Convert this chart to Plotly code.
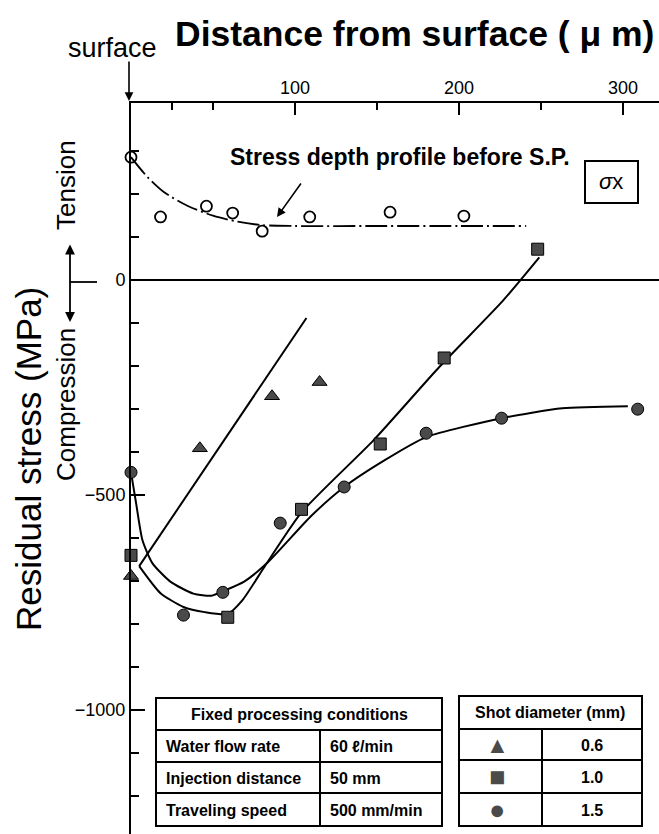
import plotly.graph_objects as go

# ---------------- data ----------------
# open circles: stress depth profile before shot peening
before_x = [0, 18, 46, 62, 80, 109, 158, 203]
before_y = [286, 147, 172, 156, 114, 147, 158, 149]
before_curve_x = [0, 10, 20, 35, 50, 65, 80, 100, 150, 200, 241]
before_curve_y = [286, 240, 205, 172, 150, 136, 128, 126, 126, 126, 126]

# shot diameter 0.6 mm (triangles)
tri_x = [0, 42, 86, 115]
tri_y = [-688, -391, -270, -237]
tri_curve_x = [5, 107]
tri_curve_y = [-665, -88]

# shot diameter 1.0 mm (squares)
sq_x = [0, 59, 104, 152, 191, 248]
sq_y = [-640, -784, -533, -381, -181, 72]
sq_curve_x = [5, 18, 32, 45, 59, 68, 82, 104, 148, 188, 227, 249]
sq_curve_y = [-665, -728, -760, -772, -776, -744, -663, -540, -372, -202, -47, 53]

# shot diameter 1.5 mm (circles)
ci_x = [0, 32, 56, 91, 130, 180, 226, 309]
ci_y = [-447, -779, -726, -565, -481, -356, -321, -300]
ci_curve_x = [0, 3, 7, 13, 24, 38, 49, 57, 69, 83, 110, 130, 155, 180, 226, 263, 303]
ci_curve_y = [-447, -516, -605, -658, -701, -729, -734, -722, -701, -658, -548, -481, -418, -365, -321, -298, -293]

x_ticks = [100, 200, 300]
x_minor = [25, 50, 150, 250]
y_ticks = [0, -500, -1000]
y_ticktext = ["0", "\u2212500", "\u22121000"]
y_minor = [v for v in range(-1200, 400, 100) if v not in y_ticks]

cond_names = ["Water flow rate", "Injection distance", "Traveling speed"]
cond_values = ["60 \u2113/min", "50 mm", "500 mm/min"]
shot_symbols = ["\u25B2", "\u25A0", "\u25CF"]
shot_values = ["0.6", "1.0", "1.5"]

# ---------------- layout helpers ----------------
W, H = 659, 834
L, T = 131, 103
PW, PH = W - L, H - T
FONT = "Liberation Sans, Arial, Helvetica, sans-serif"
MARK = "#4a4a4a"


def px(xp):
    return (xp - L) / PW


def py(yp):
    return (H - yp) / PH


fig = go.Figure()

fig.add_trace(go.Scatter(x=before_curve_x, y=before_curve_y, mode="lines",
                         line=dict(color="black", width=1.8, dash="22px,4px,2px,4px",
                                   shape="spline", smoothing=0.8),
                         hoverinfo="skip"))
fig.add_trace(go.Scatter(x=tri_curve_x, y=tri_curve_y, mode="lines",
                         line=dict(color="black", width=2)))
fig.add_trace(go.Scatter(x=sq_curve_x, y=sq_curve_y, mode="lines",
                         line=dict(color="black", width=2, shape="spline", smoothing=0.6)))
fig.add_trace(go.Scatter(x=ci_curve_x, y=ci_curve_y, mode="lines",
                         line=dict(color="black", width=2, shape="spline", smoothing=0.6)))

fig.add_trace(go.Scatter(x=before_x, y=before_y, mode="markers", cliponaxis=False,
                         marker=dict(symbol="circle-open", size=11, color="black",
                                     line=dict(width=1.8, color="black"))))
fig.add_trace(go.Scatter(x=tri_x, y=tri_y, mode="markers", cliponaxis=False,
                         marker=dict(symbol="triangle-up", size=13, color=MARK,
                                     line=dict(width=1, color="black"))))
fig.add_trace(go.Scatter(x=sq_x, y=sq_y, mode="markers", cliponaxis=False,
                         marker=dict(symbol="square", size=12, color=MARK,
                                     line=dict(width=1, color="black"))))
fig.add_trace(go.Scatter(x=ci_x, y=ci_y, mode="markers", cliponaxis=False,
                         marker=dict(symbol="circle", size=12, color=MARK,
                                     line=dict(width=1, color="black"))))

shapes = []
annots = []


def line(x0, y0, x1, y1, w=2):
    shapes.append(dict(type="line", xref="paper", yref="paper",
                       x0=px(x0), y0=py(y0), x1=px(x1), y1=py(y1),
                       line=dict(color="black", width=w)))


def rect(x0, y0, x1, y1, w=2):
    shapes.append(dict(type="rect", xref="paper", yref="paper",
                       x0=px(x0), y0=py(y0), x1=px(x1), y1=py(y1),
                       line=dict(color="black", width=w), fillcolor="white"))


def text(t, x, y, size, bold=False, xanchor="center", angle=0, color="black"):
    if bold:
        t = "<b>" + t + "</b>"
    annots.append(dict(text=t, xref="paper", yref="paper", x=px(x), y=py(y),
                       xanchor=xanchor, yanchor="middle", showarrow=False,
                       textangle=angle, font=dict(size=size, color=color, family=FONT)))


def arrow(x_tip, y_tip, x_tail, y_tail, side="end", w=1.6):
    annots.append(dict(text="", xref="paper", yref="paper", x=px(x_tip), y=py(y_tip),
                       ax=x_tail - x_tip, ay=y_tail - y_tip, axref="pixel", ayref="pixel",
                       showarrow=True, arrowhead=2, arrowsize=1.1, arrowwidth=w,
                       arrowcolor="black", arrowside=side, standoff=0, startstandoff=0))


# titles
text("Distance from surface ( \u03bc m)", 414, 34, 35.5, bold=True)
text("surface", 112, 48, 27)
arrow(129, 101, 129, 60)
text("Residual stress (MPa)", 28, 459, 35, angle=-90)
text("Tension", 66, 185, 26, angle=-90)
text("Compression", 66, 405, 26, angle=-90)
arrow(70, 322, 70, 243, side="end+start", w=1.8)
line(70, 282, 97, 282, 1.8)

# annotation of profile before S.P.
text("Stress depth profile before S.P.", 400, 157, 23, bold=True)
arrow(277, 217, 302, 182)
rect(585, 161, 638, 203)
text("<i>\u03c3</i>x", 611, 182, 22)

# table 1: fixed processing conditions
rect(156, 698, 442, 826)
line(156, 730, 442, 730)
line(156, 762, 442, 762)
line(156, 793, 442, 793)
line(320, 730, 320, 826)
text("Fixed processing conditions", 299, 714, 16, bold=True)
row_y = [746, 778, 810]
for name, val, yy in zip(cond_names, cond_values, row_y):
    text(name, 164, yy, 16, bold=True, xanchor="left")
    text(val, 328, yy, 16, bold=True, xanchor="left")

# table 2: shot diameter
rect(459, 696, 642, 826)
line(459, 729, 642, 729)
line(459, 760, 642, 760)
line(459, 793, 642, 793)
line(542, 729, 542, 826)
text("Shot diameter (mm)", 550, 712, 16, bold=True)
row2_y = [745, 777, 810]
sym_sizes = [23, 27, 27]
for sym, val, yy, ss in zip(shot_symbols, shot_values, row2_y, sym_sizes):
    text(sym, 497, yy, ss, color=MARK)
    text(val, 592, yy, 16, bold=True)

fig.update_layout(
    width=W, height=H,
    margin=dict(l=L, r=0, t=T, b=0),
    paper_bgcolor="white", plot_bgcolor="white",
    showlegend=False,
    font=dict(family=FONT, color="black"),
    shapes=shapes, annotations=annots,
    xaxis=dict(side="top", range=[0, 322], showline=True, linecolor="black", linewidth=2,
               ticks="inside", tickvals=x_ticks, ticklen=12, tickwidth=2, tickcolor="black",
               showgrid=False, zeroline=False, tickfont=dict(size=18, family=FONT),
               minor=dict(tickmode="array", tickvals=x_minor, ticks="inside", ticklen=7,
                          tickwidth=1.5, tickcolor="black", showgrid=False)),
    yaxis=dict(range=[-1288, 412], showline=True, linecolor="black", linewidth=2,
               ticks="inside", tickvals=y_ticks, ticktext=y_ticktext, ticklen=14, tickwidth=2,
               tickcolor="black", showgrid=False, zeroline=True, zerolinecolor="black",
               zerolinewidth=2, tickfont=dict(size=18, family=FONT),
               minor=dict(tickmode="array", tickvals=y_minor, ticks="inside", ticklen=8,
                          tickwidth=1.5, tickcolor="black", showgrid=False)),
)

fig.write_html("out.html", config={"displayModeBar": False},
               post_script="document.body.style.margin='0';")
